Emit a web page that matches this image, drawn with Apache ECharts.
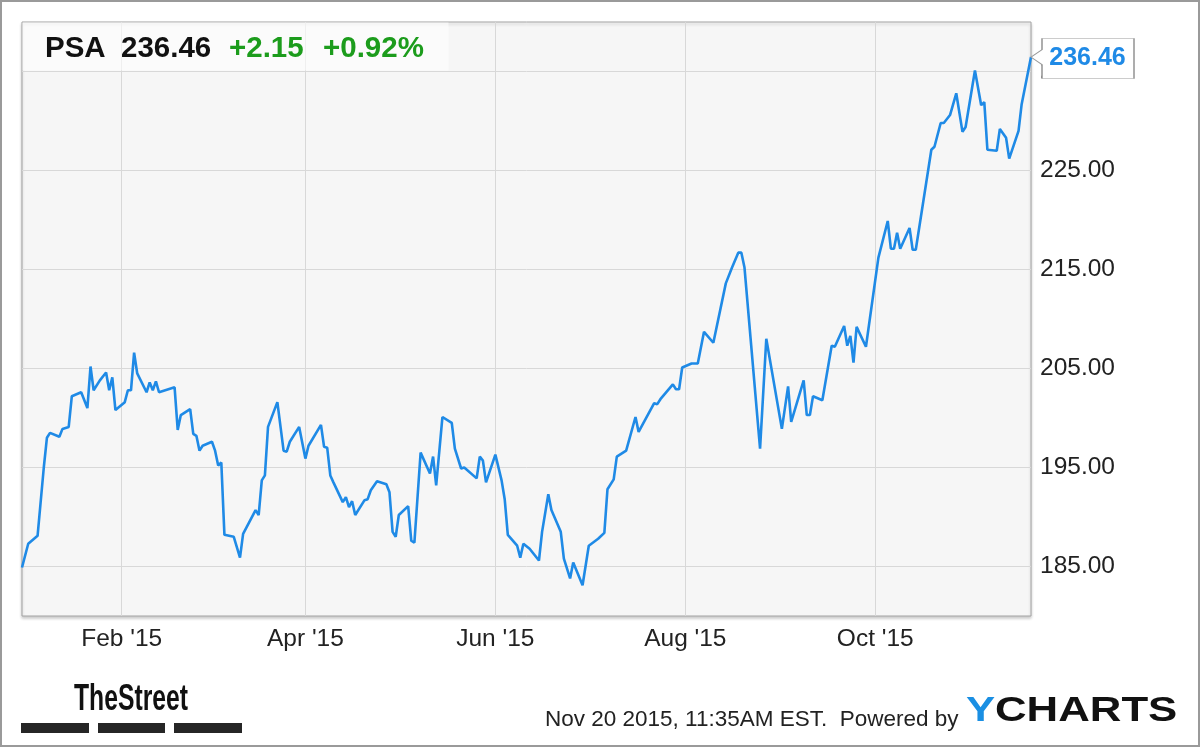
<!DOCTYPE html>
<html>
<head>
<meta charset="utf-8">
<script src="https://cdn.jsdelivr.net/npm/echarts@6/dist/echarts.min.js"></script>
<style>
html,body{margin:0;padding:0;background:#fff;}
#chart{width:1200px;height:747px;}
</style>
</head>
<body>
<div id="chart"></div>
<script>
// ---- data ----
const ticker = 'PSA';
const lastPrice = 236.46;
const change = '+2.15';
const changePct = '+0.92%';
const stamp = 'Nov 20 2015, 11:35AM EST.';

const dates = [
'2014-12-31','2015-01-02','2015-01-05','2015-01-07','2015-01-08','2015-01-09','2015-01-12','2015-01-13','2015-01-15','2015-01-16',
'2015-01-19','2015-01-21','2015-01-22','2015-01-23','2015-01-25','2015-01-27','2015-01-28','2015-01-29','2015-01-30','2015-02-02',
'2015-02-03','2015-02-04','2015-02-05','2015-02-06','2015-02-09','2015-02-10','2015-02-11','2015-02-12','2015-02-13','2015-02-18',
'2015-02-19','2015-02-20','2015-02-23','2015-02-24','2015-02-25','2015-02-26','2015-02-27','2015-03-02','2015-03-03','2015-03-04',
'2015-03-05','2015-03-06','2015-03-09','2015-03-11','2015-03-12','2015-03-16','2015-03-17','2015-03-18','2015-03-19','2015-03-20',
'2015-03-23','2015-03-25','2015-03-26','2015-03-27','2015-03-30','2015-04-01','2015-04-02','2015-04-06','2015-04-07','2015-04-08',
'2015-04-09','2015-04-10','2015-04-13','2015-04-14','2015-04-15','2015-04-16','2015-04-17','2015-04-20','2015-04-21','2015-04-22',
'2015-04-24','2015-04-27','2015-04-28','2015-04-29','2015-04-30','2015-05-01','2015-05-04','2015-05-05','2015-05-06','2015-05-08',
'2015-05-11','2015-05-12','2015-05-13','2015-05-15','2015-05-18','2015-05-19','2015-05-21','2015-05-22','2015-05-26','2015-05-27',
'2015-05-28','2015-05-29','2015-06-01','2015-06-03','2015-06-04','2015-06-05','2015-06-08','2015-06-09','2015-06-10','2015-06-12',
'2015-06-15','2015-06-16','2015-06-18','2015-06-19','2015-06-22','2015-06-23','2015-06-25','2015-06-26','2015-06-29','2015-07-01',
'2015-07-04','2015-07-06','2015-07-07','2015-07-09','2015-07-10','2015-07-13','2015-07-16','2015-07-17','2015-07-22','2015-07-23',
'2015-07-24','2015-07-28','2015-07-29','2015-07-30','2015-07-31','2015-08-03','2015-08-05','2015-08-07','2015-08-10','2015-08-14',
'2015-08-16','2015-08-18','2015-08-19','2015-08-20','2015-08-25','2015-08-27','2015-09-01','2015-09-03','2015-09-04','2015-09-08',
'2015-09-09','2015-09-10','2015-09-11','2015-09-14','2015-09-17','2015-09-18','2015-09-21','2015-09-22','2015-09-23','2015-09-24',
'2015-09-25','2015-09-28','2015-10-02','2015-10-05','2015-10-06','2015-10-07','2015-10-08','2015-10-09','2015-10-12','2015-10-13',
'2015-10-14','2015-10-19','2015-10-20','2015-10-22','2015-10-23','2015-10-25','2015-10-27','2015-10-29','2015-10-30','2015-11-02',
'2015-11-04','2015-11-05','2015-11-06','2015-11-09','2015-11-10','2015-11-12','2015-11-13','2015-11-16','2015-11-17','2015-11-20'
];
const prices = [
184.9,187.3,188.1,195.0,198.0,198.5,198.1,198.9,199.1,202.2,
202.6,201.0,205.2,202.8,203.8,204.6,202.8,204.1,200.8,201.6,
202.8,202.8,206.6,204.5,202.6,203.6,202.8,203.7,202.6,203.1,
198.8,200.3,200.9,198.4,198.2,196.7,197.2,197.6,196.7,195.2,
195.5,188.2,188.0,185.9,188.3,190.7,190.2,193.7,194.2,199.1,
201.6,196.7,196.6,197.6,199.1,195.9,197.2,199.3,197.1,197.0,
194.2,193.5,191.5,192.0,191.0,191.6,190.2,191.7,191.8,192.7,
193.6,193.3,192.5,188.5,188.0,190.2,191.1,187.6,187.4,196.5,
194.4,196.1,193.2,200.1,199.5,196.9,194.9,195.0,193.9,196.1,
195.7,193.5,196.3,193.7,191.8,188.2,187.1,185.9,187.3,186.8,
185.6,188.5,192.3,190.7,188.5,185.8,183.8,185.4,183.1,187.1,
187.8,188.4,192.8,193.8,196.1,196.7,200.1,198.6,201.5,201.4,
201.9,203.4,202.9,202.9,205.1,205.5,205.5,208.7,207.6,213.6,
215.2,216.7,216.7,215.2,196.9,208.0,198.9,203.2,199.6,203.8,
200.3,200.3,202.2,201.8,207.3,207.2,209.3,207.3,208.3,205.6,
209.2,207.2,216.2,219.9,217.1,217.1,218.7,217.1,219.2,217.0,
217.0,227.1,227.4,229.8,229.8,230.6,232.8,228.9,229.4,235.1,
231.6,231.9,227.1,227.0,229.2,228.3,226.2,229.0,231.7,236.46
];
const xMin = '2014-12-31';
const xMax = '2015-11-20';
const xTickDates = ['2015-02-01','2015-04-01','2015-06-01','2015-08-01','2015-10-01'];
const xTickLabels = ["Feb '15","Apr '15","Jun '15","Aug '15","Oct '15"];
const yMin = 180, yMax = 240, yStep = 5;
const yLabelValues = [185,195,205,215,225,235];

// ---- chart ----
const FONT = '"Liberation Sans", Arial, Helvetica, sans-serif';
const parse = s => +echarts.time.parse(s);
const xTickTs = xTickDates.map(parse);
const seriesData = dates.map((d, i) => [parse(d), prices[i]]);

const chart = echarts.init(document.getElementById('chart'), null, {renderer: 'canvas'});
chart.setOption({
  animation: false,
  backgroundColor: '#ffffff',
  grid: {
    left: 22, right: 169, top: 22, bottom: 131,
    show: true,
    backgroundColor: '#f6f6f6',
    borderColor: '#a4a4a4',
    borderWidth: 1,
    shadowColor: 'rgba(0,0,0,0.2)',
    shadowBlur: 3,
    shadowOffsetY: 2
  },
  xAxis: {
    type: 'value',
    min: parse(xMin),
    max: parse(xMax),
    axisLine: {show: false},
    axisTick: {show: false, customValues: xTickTs},
    axisLabel: {
      customValues: xTickTs,
      formatter: v => {
        const i = xTickTs.findIndex(t => Math.abs(t - v) < 43200000);
        return i >= 0 ? xTickLabels[i] : '';
      },
      color: '#222', fontFamily: FONT, fontSize: 24.5, margin: 11
    },
    splitLine: {show: true, lineStyle: {color: '#d8d8d8', width: 1}}
  },
  yAxis: {
    type: 'value',
    position: 'right',
    min: yMin, max: yMax, interval: yStep,
    axisLine: {show: false},
    axisTick: {show: false},
    axisLabel: {
      formatter: v => yLabelValues.indexOf(v) >= 0 ? v.toFixed(2) : '',
      color: '#222', fontFamily: FONT, fontSize: 24.5, margin: 9
    },
    splitLine: {show: true, lineStyle: {color: ['rgba(0,0,0,0)', '#d8d8d8'], width: 1}}
  },
  series: [{
    type: 'line',
    data: seriesData,
    showSymbol: false,
    symbol: 'none',
    lineStyle: {color: '#1f8ae6', width: 2.6},
    z: 3,
    markPoint: {
      symbol: 'path://M0,18.5 L11,11 L11,0 L103,0 L103,40 L11,40 L11,26 Z',
      symbolSize: [103, 40],
      symbolOffset: [51.5, 1.5],
      symbolKeepAspect: false,
      itemStyle: {color: '#ffffff', borderColor: '#9a9a9a', borderWidth: 1},
      label: {
        show: true, position: 'inside', offset: [5, 0],
        formatter: p => p.value.toFixed(2),
        color: '#1f8ae6', fontFamily: FONT, fontSize: 25, fontWeight: 'bold'
      },
      data: [{coord: [parse(dates[dates.length - 1]), lastPrice], value: lastPrice}],
      z: 10
    }
  }],
  graphic: [
    {type: 'rect', shape: {x: 1, y: 1, width: 1198, height: 745}, style: {fill: 'none', stroke: '#9a9a9a', lineWidth: 2}, z: 20, silent: true},
    {type: 'rect', shape: {x: 22.5, y: 22.5, width: 426, height: 48}, style: {fill: 'rgba(255,255,255,0.6)'}, z: 5, silent: true},
    {type: 'text', x: 45, y: 49, style: {text: ticker, fill: '#111', font: 'bold 29.5px ' + FONT, textVerticalAlign: 'middle'}, z: 6},
    {type: 'text', x: 121, y: 49, style: {text: lastPrice.toFixed(2), fill: '#111', font: 'bold 29.5px ' + FONT, textVerticalAlign: 'middle'}, z: 6},
    {type: 'text', x: 229, y: 49, style: {text: change, fill: '#1c9c1c', font: 'bold 29.5px ' + FONT, textVerticalAlign: 'middle'}, z: 6},
    {type: 'text', x: 323, y: 49, style: {text: changePct, fill: '#1c9c1c', font: 'bold 29.5px ' + FONT, textVerticalAlign: 'middle'}, z: 6},
    {type: 'text', x: 74, y: 700, scaleX: 0.687, style: {text: 'TheStreet', fill: '#111', font: 'bold 36px ' + FONT, textVerticalAlign: 'middle'}, z: 6},
    {type: 'rect', shape: {x: 21, y: 723, width: 68, height: 10}, style: {fill: '#262626'}, z: 6},
    {type: 'rect', shape: {x: 98, y: 723, width: 67, height: 10}, style: {fill: '#262626'}, z: 6},
    {type: 'rect', shape: {x: 174, y: 723, width: 68, height: 10}, style: {fill: '#262626'}, z: 6},
    {type: 'text', x: 545, y: 720, style: {text: stamp + '  Powered by', fill: '#222', font: '22.5px ' + FONT, textVerticalAlign: 'middle'}, z: 6},
    {type: 'text', x: 966, y: 711, scaleX: 1.25, style: {text: 'Y', fill: '#1a8fe3', font: 'bold 35px ' + FONT, textVerticalAlign: 'middle'}, z: 6},
    {type: 'text', x: 995, y: 711, scaleX: 1.25, style: {text: 'CHARTS', fill: '#111', font: 'bold 35px ' + FONT, textVerticalAlign: 'middle'}, z: 6}
  ]
});
</script>
</body>
</html>
